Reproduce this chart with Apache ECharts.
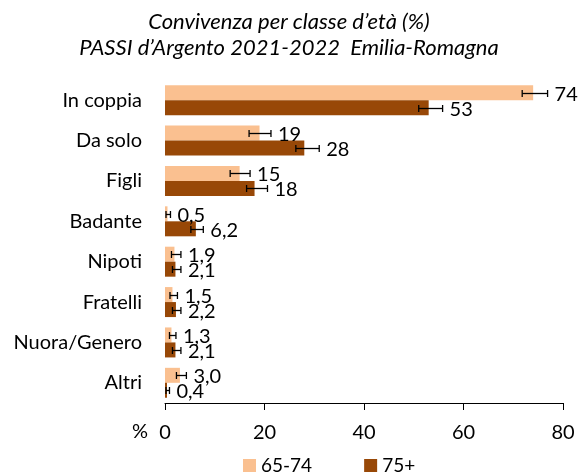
<!DOCTYPE html>
<html>
<head>
<meta charset="utf-8">
<script src="https://cdn.jsdelivr.net/npm/echarts@6/dist/echarts.min.js"></script>
</head>
<body style="margin:0">
<div id="chartmain" style="width:578px;height:476px"></div>
<script type="text/javascript">
    // categorie
    var categories = ['In coppia', 'Da solo', 'Figli', 'Badante', 'Nipoti', 'Fratelli', 'Nuora/Genero', 'Altri'];
    var seriesNames = ['65-74', '75+'];
    // valori %
    var val6574 = [74, 19, 15, 0.5, 1.9, 1.5, 1.3, 3.0];
    var val75 = [53, 28, 18, 6.2, 2.1, 2.2, 2.1, 0.4];
    // intervalli di confidenza
    var lo6574 = [71.8, 16.9, 13.1, 0.2, 1.3, 1.0, 0.9, 2.3];
    var hi6574 = [76.9, 21.3, 17.1, 1.1, 3.2, 2.5, 2.2, 4.3];
    var lo75 = [51.0, 26.3, 16.4, 5.2, 1.5, 1.5, 1.5, 0.2];
    var hi75 = [55.8, 31.0, 20.6, 7.7, 3.2, 3.2, 3.2, 0.9];
    var xTicks = [0, 20, 40, 60, 80];

    var colors = ['#FAC090', '#984807'];
    var font = 'Lato, "Liberation Sans", sans-serif';

    function fmt(v) {
        return v >= 10 ? String(Math.round(v)) : v.toFixed(1).replace('.', ',');
    }

    function errData(vals, lo, hi) {
        var d = [];
        for (var i = 0; i < vals.length; i++) d.push([i, lo[i], hi[i], vals[i]]);
        return d;
    }

    function errSeries(vals, lo, hi, offset) {
        return {
            type: 'custom',
            z: 10,
            data: errData(vals, lo, hi),
            encode: { x: [1, 2], y: 0 },
            renderItem: function (params, api) {
                var c = api.value(0);
                var a = api.coord([api.value(1), c]);
                var b = api.coord([api.value(2), c]);
                var y = Math.round(a[1] + offset) + 0.5;
                var h = 3.5;
                var ln = { stroke: '#000', lineWidth: 1.3 };
                return {
                    type: 'group',
                    children: [
                        { type: 'line', shape: { x1: a[0], y1: y, x2: b[0], y2: y }, style: ln },
                        { type: 'line', shape: { x1: a[0], y1: y - h, x2: a[0], y2: y + h }, style: ln },
                        { type: 'line', shape: { x1: b[0], y1: y - h, x2: b[0], y2: y + h }, style: ln },
                        { type: 'text', x: b[0] + 7, y: y + 1, style: { text: fmt(api.value(3)), fill: '#000', font: '20px ' + font, textVerticalAlign: 'middle' } }
                    ]
                };
            }
        };
    }

    var titleStyle = { fontSize: 22, fontStyle: 'italic', fontWeight: 'normal', color: '#000', fontFamily: font };

    var option = {
        animation: false,
        title: [
            { text: 'Convivenza per classe d\u2019et\u00e0 (%)', left: 'center', top: 6, textStyle: titleStyle },
            { text: 'PASSI d\u2019Argento 2021-2022  Emilia-Romagna', left: 'center', top: 32, textStyle: titleStyle }
        ],
        legend: {
            data: seriesNames,
            left: 238,
            top: 451,
            itemWidth: 13,
            itemHeight: 13,
            itemGap: 52,
            icon: 'rect',
            textStyle: { fontSize: 19, color: '#000', fontFamily: font }
        },
        grid: { left: 165, right: 15, top: 80, bottom: 73 },
        xAxis: {
            type: 'value',
            min: xTicks[0],
            max: xTicks[xTicks.length - 1],
            interval: 20,
            splitLine: { show: false },
            axisLine: { show: true, lineStyle: { color: '#000' } },
            axisTick: { show: true, length: 7, lineStyle: { color: '#000' } },
            axisLabel: { fontSize: 20, color: '#000', fontFamily: font, margin: 20 }
        },
        yAxis: {
            type: 'category',
            data: categories,
            inverse: true,
            axisLine: { show: false },
            axisTick: { show: false },
            axisLabel: { fontSize: 20, color: '#000', fontFamily: font, margin: 23 }
        },
        graphic: [
            { type: 'text', left: 132, top: 422, style: { text: '%', font: '20px ' + font, fill: '#000' } }
        ],
        series: [
            { name: seriesNames[0], type: 'bar', data: val6574, barWidth: 15, barGap: '0%', itemStyle: { color: colors[0] } },
            { name: seriesNames[1], type: 'bar', data: val75, barWidth: 15, barGap: '0%', itemStyle: { color: colors[1] } },
            errSeries(val6574, lo6574, hi6574, -7.5),
            errSeries(val75, lo75, hi75, 7.5)
        ]
    };

    var myChart = echarts.init(document.getElementById('chartmain'));
    myChart.setOption(option);
</script>
</body>
</html>
